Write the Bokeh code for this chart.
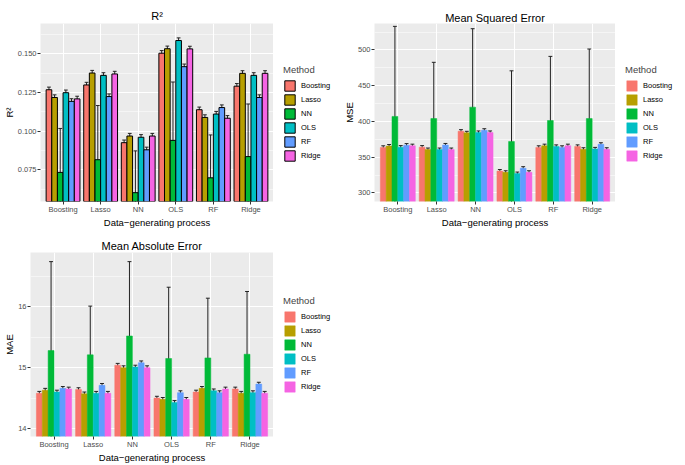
from bokeh.plotting import figure
from bokeh.models import (ColumnDataSource, FixedTicker, Legend, LegendItem,
                          PrintfTickFormatter, Range1d)
from bokeh.layouts import column, row
from bokeh.embed import file_html
from bokeh.resources import INLINE

# ---------------- data ----------------
dgps = ["Boosting", "Lasso", "NN", "OLS", "RF", "Ridge"]
methods = ["Boosting", "Lasso", "NN", "OLS", "RF", "Ridge"]
colors = ["#F8766D", "#B79F00", "#00BA38", "#00BFC4", "#619CFF", "#F564E3"]

r2_vals = {
    "Boosting": [0.1267, 0.1298, 0.0925, 0.1503, 0.1138, 0.1290],
    "Lasso":    [0.1217, 0.1375, 0.0968, 0.1532, 0.1088, 0.1373],
    "NN":       [0.0733, 0.0815, 0.0602, 0.0940, 0.0698, 0.0835],
    "OLS":      [0.1248, 0.1360, 0.0960, 0.1585, 0.1110, 0.1360],
    "RF":       [0.1192, 0.1223, 0.0879, 0.1416, 0.1152, 0.1217],
    "Ridge":    [0.1208, 0.1369, 0.0968, 0.1531, 0.1083, 0.1373],
}
r2_err = {
    "Boosting": [0.0017] * 6,
    "Lasso":    [0.0017] * 6,
    "NN":       [0.0284, 0.0350, 0.0270, 0.0377, 0.0277, 0.0340],
    "OLS":      [0.0017] * 6,
    "RF":       [0.0017] * 6,
    "Ridge":    [0.0017] * 6,
}

mse_vals = {
    "Boosting": [363.7, 364.0, 386.3, 330.5, 363.7, 365.0],
    "Lasso":    [365.5, 360.6, 384.0, 328.8, 366.0, 361.0],
    "NN":       [407.0, 404.0, 420.0, 372.0, 401.3, 404.0],
    "OLS":      [364.0, 360.6, 384.5, 327.0, 365.0, 361.5],
    "RF":       [366.8, 367.0, 387.6, 334.5, 363.7, 368.0],
    "Ridge":    [366.0, 360.6, 384.5, 328.8, 366.0, 361.0],
}
mse_err = {
    "Boosting": [2.2] * 6,
    "Lasso":    [2.2] * 6,
    "NN":       [126.0, 78.7, 109.7, 98.8, 89.7, 97.3],
    "OLS":      [2.2] * 6,
    "RF":       [2.2] * 6,
    "Ridge":    [2.2] * 6,
}

mae_vals = {
    "Boosting": [14.58, 14.64, 15.04, 14.50, 14.60, 14.65],
    "Lasso":    [14.63, 14.57, 15.00, 14.48, 14.66, 14.58],
    "NN":       [15.28, 15.21, 15.52, 15.15, 15.16, 15.22],
    "OLS":      [14.60, 14.58, 15.01, 14.43, 14.62, 14.59],
    "RF":       [14.66, 14.71, 15.08, 14.59, 14.59, 14.73],
    "Ridge":    [14.65, 14.58, 15.00, 14.48, 14.65, 14.58],
}
mae_err = {
    "Boosting": [0.03] * 6,
    "Lasso":    [0.03] * 6,
    "NN":       [1.46, 0.80, 1.22, 1.17, 0.98, 1.03],
    "OLS":      [0.03] * 6,
    "RF":       [0.03] * 6,
    "Ridge":    [0.03] * 6,
}

r2_ticks = [0.075, 0.100, 0.125, 0.150]
mse_ticks = [300, 350, 400, 450, 500]
mae_ticks = [14, 15, 16]

FONT = "Liberation Sans"
BAR_W = 0.9 / 6
CAP = 0.05


def make_panel(title, ylabel, vals, errs, yr, ticks, minor, fmt, outline,
               width, height, left, top, bottom, tstand):
    p = figure(width=width, height=height, output_backend="svg",
               toolbar_location=None, x_range=Range1d(0.4, 6.6),
               y_range=Range1d(*yr), min_border_left=left,
               min_border_right=0, min_border_top=top,
               min_border_bottom=bottom)
    p.title.text = title
    p.title.align = "center"
    p.title.text_font = FONT
    p.title.text_font_style = "normal"
    p.title.text_font_size = "11px"
    p.title.text_color = "black"
    p.title.standoff = tstand
    p.background_fill_color = "#EBEBEB"
    p.border_fill_color = "white"
    p.outline_line_color = None

    sources = []
    for j, m in enumerate(methods):
        xs = [i + 1 + (j - 2.5) * BAR_W for i in range(len(dgps))]
        v = vals[m]
        e = errs[m]
        src = ColumnDataSource(dict(
            xc=xs, top=v, lo=[a - b for a, b in zip(v, e)],
            hi=[a + b for a, b in zip(v, e)],
            xl=[x - CAP for x in xs], xr=[x + CAP for x in xs]))
        sources.append(src)
        p.segment(x0="xc", x1="xc", y0="lo", y1="hi", source=src,
                  line_color="#222222", line_width=1)
        p.segment(x0="xl", x1="xr", y0="hi", y1="hi", source=src,
                  line_color="#222222", line_width=1)
        p.vbar(x="xc", top="top", bottom=0, width=BAR_W, source=src,
               fill_color=colors[j],
               line_color="black" if outline else colors[j],
               line_width=1 if outline else 0.5)

    p.xaxis.ticker = FixedTicker(ticks=[1, 2, 3, 4, 5, 6])
    p.xaxis.major_label_overrides = {i + 1: d for i, d in enumerate(dgps)}
    p.yaxis.ticker = FixedTicker(ticks=ticks, minor_ticks=minor)
    p.yaxis.formatter = PrintfTickFormatter(format=fmt)
    p.xaxis.axis_label = "Data\u2212generating process"
    p.yaxis.axis_label = ylabel
    for ax in (p.xaxis, p.yaxis):
        ax.axis_line_color = None
        ax.major_tick_line_color = "#333333"
        ax.major_tick_in = 0
        ax.major_tick_out = 3
        ax.minor_tick_line_color = None
        ax.major_label_text_font = FONT
        ax.major_label_text_font_size = "7.5px"
        ax.major_label_text_color = "#4D4D4D"
        ax.major_label_standoff = 0
        ax.axis_label_text_font = FONT
        ax.axis_label_text_font_size = "9.5px"
        ax.axis_label_text_font_style = "normal"
        ax.axis_label_text_color = "black"
        ax.axis_label_standoff = 0
    p.xgrid.grid_line_color = "white"
    p.ygrid.grid_line_color = "white"
    p.ygrid.minor_grid_line_color = "white"
    p.ygrid.minor_grid_line_width = 0.5
    return p, sources


def make_legend(width, height, y0, outline, sources):
    # legend-only figure; glyphs share the panel's sources but lie off-range
    lf = figure(width=width, height=height, output_backend="svg",
                toolbar_location=None, min_border=0,
                x_axis_type=None, y_axis_type=None,
                x_range=Range1d(-30, -29), y_range=Range1d(-30, -29))
    lf.outline_line_color = None
    lf.grid.visible = False
    lf.background_fill_color = "white"
    lf.border_fill_color = "white"
    items = []
    for j, m in enumerate(methods):
        r = lf.vbar(x="xc", top="top", bottom=0, width=BAR_W,
                    source=sources[j], fill_color=colors[j],
                    line_color="black" if outline else colors[j],
                    line_width=1 if outline else 0.5)
        items.append(LegendItem(label=m, renderers=[r], index=0))
    leg = Legend(items=items, title="Method", location=(10, y0))
    leg.title_text_font = FONT
    leg.title_text_font_size = "9.5px"
    leg.title_text_font_style = "normal"
    leg.title_standoff = 4
    leg.label_text_font = FONT
    leg.label_text_font_size = "7.5px"
    leg.label_text_color = "black"
    leg.glyph_width = 13
    leg.glyph_height = 13
    leg.label_height = 13
    leg.label_standoff = 5
    leg.spacing = 1
    leg.padding = 4
    leg.margin = 0
    leg.border_line_color = None
    leg.background_fill_color = "white"
    lf.add_layout(leg)
    return lf


p1, s1 = make_panel("R\u00b2", "R\u00b2", r2_vals, r2_err, (0.0545, 0.1695),
                    r2_ticks, [0.0625, 0.0875, 0.1125, 0.1375, 0.1625], "%.3f",
                    True, 273, 230, 40, 23, 23, 3)
l1 = make_legend(67, 230, 39, True, s1)
p2, s2 = make_panel("Mean Squared Error", "MSE", mse_vals, mse_err, (288, 537),
                    mse_ticks, [275, 325, 375, 425, 475, 525], "%d",
                    False, 275, 230, 33, 14, 23, 0)
l2 = make_legend(70, 230, 39, False, s2)
p3, s3 = make_panel("Mean Absolute Error", "MAE", mae_vals, mae_err,
                    (13.87, 16.89), mae_ticks, [13.5, 14.5, 15.5, 16.5], "%d",
                    False, 273, 235, 30, 22, 27, 2)
l3 = make_legend(67, 235, 43, False, s3)

lay = column(row(p1, l1, p2, l2), row(p3, l3))
open("out.html", "w").write(file_html(lay, INLINE))
